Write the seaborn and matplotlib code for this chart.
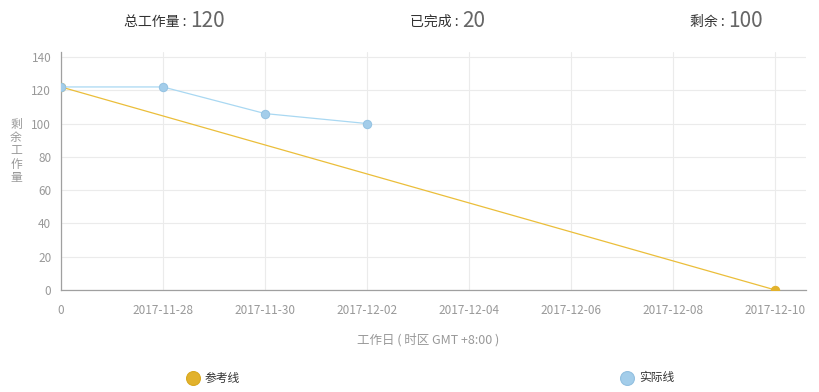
#!/usr/bin/env python3
"""Burndown chart: reference line vs actual remaining work."""

import matplotlib
matplotlib.use('Agg')
import matplotlib.pyplot as plt
import seaborn as sns
import pandas as pd

# --- data -------------------------------------------------------------
tick_labels = ['0', '2017-11-28', '2017-11-30', '2017-12-02',
               '2017-12-04', '2017-12-06', '2017-12-08', '2017-12-10']
tick_days = [0, 2, 4, 6, 8, 10, 12, 14]

ref_days = [0, 14]
ref_remaining = [122, 0]

actual_days = [0, 2, 4, 6]
actual_remaining = [122, 122, 106, 100]

summary_labels = ['总工作量 : ', '已完成 : ', '剩余 : ']
summary_values = ['120', '20', '100']

series_names = ['参考线', '实际线']

# --- style ------------------------------------------------------------
sns.set_theme(style='white')
plt.rcParams['font.family'] = ['Noto Sans CJK SC', 'DejaVu Sans']

REF_COLOR = '#EBBE3A'
REF_DOT = '#E2B22C'
ACT_COLOR = '#A9D8F2'
ACT_DOT = '#A3CDEA'
GRID = '#EBEBEB'
AXIS = '#A0A0A0'
TICK_TXT = '#999999'

fig = plt.figure(figsize=(8.2, 3.92), dpi=100)
ax = fig.add_axes([61 / 820, 1 - 290 / 392, 745 / 820, 238 / 392])

ref_df = pd.DataFrame({'day': ref_days, 'remaining': ref_remaining})
act_df = pd.DataFrame({'day': actual_days, 'remaining': actual_remaining})

sns.lineplot(data=ref_df, x='day', y='remaining', ax=ax, color=REF_COLOR,
             linewidth=0.9, marker='o', markersize=6,
             markerfacecolor=REF_DOT, markeredgecolor=REF_DOT, zorder=3)
sns.lineplot(data=act_df, x='day', y='remaining', ax=ax, color=ACT_COLOR,
             linewidth=0.9, marker='o', markersize=6,
             markerfacecolor=ACT_DOT, markeredgecolor='#95C3E3', zorder=4)

ax.set_xlim(0, 14.6)
ax.set_ylim(0, 143)
ax.set_xticks(tick_days)
ax.set_xticklabels(tick_labels)
ax.set_yticks(range(0, 141, 20))
ax.grid(True, color=GRID, linewidth=0.8)
ax.set_axisbelow(True)

for side in ['top', 'right']:
    ax.spines[side].set_visible(False)
for side in ['left', 'bottom']:
    ax.spines[side].set_color(AXIS)
    ax.spines[side].set_linewidth(0.9)

ax.tick_params(axis='both', labelsize=8.5, colors='#CCCCCC', length=4,
               width=0.8, direction='out')
ax.tick_params(axis='x', pad=6)
ax.tick_params(axis='y', pad=3)
for lbl in ax.get_xticklabels() + ax.get_yticklabels():
    lbl.set_color(TICK_TXT)

ax.set_xlabel('')
ax.set_ylabel('')
fig.text(428 / 820, 1 - 340 / 392, '工作日 ( 时区 GMT +8:00 )',
         ha='center', va='center', fontsize=9, color=TICK_TXT)
fig.text(16 / 820, 1 - 151 / 392, '\n'.join('剩余工作量'),
         ha='center', va='center', fontsize=8.5, color=TICK_TXT,
         linespacing=1.05)

# summary header
splits = [190, 462, 728]
for cx, lab, val in zip(splits, summary_labels, summary_values):
    fig.text(cx / 820, 1 - 22 / 392, lab, ha='right', va='center',
             fontsize=10, color='#333333')
    fig.text(cx / 820, 1 - 21 / 392, val, ha='left', va='center',
             fontsize=15, color='#666666')

# legend
legend_pos = [(193, REF_DOT, '#D9A920', series_names[0]),
              (627, ACT_DOT, '#93C0E0', series_names[1])]
for px, col, edge, name in legend_pos:
    fig.lines.append(plt.Line2D([px / 820], [1 - 378 / 392], marker='o',
                                markersize=10, color=col,
                                markeredgecolor=edge, markeredgewidth=0.8,
                                transform=fig.transFigure))
    fig.text((px + 12) / 820, 1 - 378 / 392, name, ha='left', va='center',
             fontsize=8.5, color='#333333')

plt.savefig('out.png', dpi=100)
